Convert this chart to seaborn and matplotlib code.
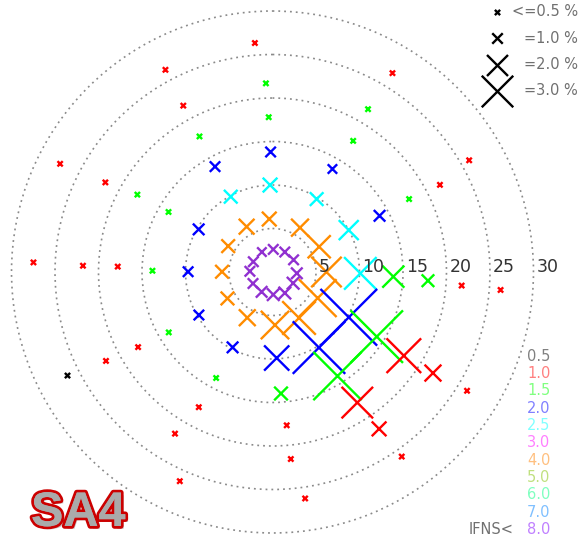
import numpy as np
import pandas as pd
import matplotlib
matplotlib.use("Agg")
import matplotlib.pyplot as plt
import matplotlib.patheffects as pe
from matplotlib.transforms import offset_copy
import seaborn as sns

# 12 directions x 7 speed bins
direction_deg = [
    2.0, 356.5, 358.4, 359.1, 358.6, 358.0, 355.6,
    31.6, 31.8, 31.2, 30.2, 31.6, 30.4, 31.1,
    60.0, 61.6, 61.2, 62.3, 61.9, 62.5, 60.4,
    93.0, 90.0, 90.9, 92.2, 93.2, 94.1, 94.5,
    118.5, 120.0, 120.7, 121.8, 122.5, 122.2, 121.4,
    149.6, 150.0, 148.4, 148.0, 147.0, 145.8, 145.0,
    178.0, 177.3, 177.2, 176.0, 174.7, 174.4, 171.8,
    208.7, 208.9, 207.9, 208.0, 208.6, 211.1, 203.9,
    239.5, 239.6, 239.7, 239.8, 240.8, 241.9, 243.2,
    271.8, 270.3, 270.2, 270.6, 272.0, 271.9, 272.3,
    298.2, 300.3, 300.0, 300.0, 299.8, 298.2, 297.0,
    332.0, 330.3, 331.0, 331.4, 331.7, 331.8, 332.1,
]
speed = [
    2.6, 6.1, 10.0, 13.8, 17.8, 21.7, 26.4,
    2.7, 6.0, 9.8, 13.7, 17.7, 21.7, 26.7,
    2.8, 6.1, 10.0, 13.9, 17.8, 21.7, 26.0,
    2.8, 6.2, 10.1, 13.9, 17.9, 21.8, 26.3,
    2.7, 6.0, 10.2, 14.1, 17.9, 21.8, 26.2,
    2.8, 6.1, 10.2, 14.1, 17.9, 21.8, 25.9,
    2.6, 6.1, 9.9, 14.0, 17.7, 21.6, 26.3,
    2.6, 6.0, 9.8, 13.8, 17.7, 21.7, 26.3,
    2.6, 6.0, 9.8, 13.8, 17.7, 21.7, 26.4,
    2.6, 5.8, 9.7, 13.8, 17.8, 21.8, 27.5,
    2.5, 5.9, 9.8, 13.8, 17.9, 21.8, 27.4,
    2.6, 6.0, 9.9, 13.8, 17.7, 21.7, 26.3,
]
freq_pct = [
    1.0, 1.4, 1.4, 1.0, 0.5, 0.5, 0.5,
    1.0, 1.7, 1.3, 0.9, 0.5, 0.5, 0.5,
    1.0, 2.2, 1.9, 1.1, 0.5, 0.5, 0.5,
    1.1, 2.9, 3.1, 2.1, 1.2, 0.5, 0.5,
    1.2, 3.6, 5.4, 5.0, 3.3, 1.6, 0.5,
    1.2, 3.2, 5.0, 4.6, 3.0, 1.4, 0.5,
    1.2, 2.7, 2.4, 1.3, 0.5, 0.5, 0.5,
    1.1, 1.6, 1.1, 0.5, 0.5, 0.5, 0.5,
    1.0, 1.3, 1.0, 0.5, 0.5, 0.5, 0.5,
    1.0, 1.3, 1.0, 0.5, 0.5, 0.5, 0.5,
    1.0, 1.3, 1.1, 0.5, 0.5, 0.5, 0.5,
    0.9, 1.5, 1.3, 1.0, 0.5, 0.5, 0.5,
]
ifns_class = [
    "8.0", "4.0", "2.5", "2.0", "1.5", "1.5", "1.0",
    "8.0", "4.0", "2.5", "2.0", "1.5", "1.5", "1.0",
    "8.0", "4.0", "2.5", "2.0", "1.5", "1.0", "1.0",
    "8.0", "4.0", "2.5", "1.5", "1.5", "1.0", "1.0",
    "8.0", "4.0", "2.0", "1.5", "1.0", "1.0", "1.0",
    "8.0", "4.0", "2.0", "1.5", "1.0", "1.0", "1.0",
    "8.0", "4.0", "2.0", "1.5", "1.0", "1.0", "1.0",
    "8.0", "4.0", "2.0", "1.5", "1.0", "1.0", "1.0",
    "8.0", "4.0", "2.0", "1.5", "1.0", "1.0", "0.5",
    "8.0", "4.0", "2.0", "1.5", "1.0", "1.0", "1.0",
    "8.0", "4.0", "2.0", "1.5", "1.5", "1.0", "1.0",
    "8.0", "4.0", "2.5", "2.0", "1.5", "1.0", "1.0",
]

class_labels = ["0.5", "1.0", "1.5", "2.0", "2.5", "3.0", "4.0", "5.0", "6.0", "7.0", "8.0"]
class_colors = ["#000000", "#FF0000", "#00FF00", "#0000FF", "#00FFFF", "#FF00FF",
                "#FF8C00", "#80C000", "#00FF80", "#0080FF", "#9030D0"]
label_colors = ["#808080", "#FF8080", "#80FF80", "#8080FF", "#80FFFF", "#FF80FF",
                "#FFC080", "#C0E080", "#80FFC0", "#80C0FF", "#C080FF"]
size_keys = ["<=0.5 %", "=1.0 %", "=2.0 %", "=3.0 %"]
size_vals = [0.5, 1.0, 2.0, 3.0]
rings = [5, 10, 15, 20, 25, 30]

MS_PER_PCT = 7.56  # marker width in points per percent

df = pd.DataFrame({"dir": direction_deg, "speed": speed, "pct": freq_pct, "ifns": ifns_class})
df["theta"] = np.deg2rad(df["dir"])
df["area"] = (MS_PER_PCT * df["pct"]) ** 2

sns.set_style("white")
plt.rcParams["font.family"] = ["DejaVu Sans"]

fig = plt.figure(figsize=(5.82, 5.39), dpi=100)
# r-limit a bit past 30 so the outer dotted ring is not clipped
ax = fig.add_axes([0.0153, 0.0063, 0.9058, 0.9781], projection="polar")
ax.set_theta_zero_location("N")
ax.set_theta_direction(-1)

amin, amax = df["area"].min(), df["area"].max()
sns.scatterplot(data=df, x="theta", y="speed", hue="ifns",
                palette=dict(zip(class_labels, class_colors)),
                size="area", sizes=(amin, amax), size_norm=(amin, amax),
                marker="x", linewidth=1.7, legend=False, ax=ax, clip_on=False)

ax.set_ylim(0, 30.3)
ax.set_yticks(rings)
ax.set_yticklabels([])
ax.set_xticks([])
ax.set_xlabel("")
ax.set_ylabel("")
ax.spines["polar"].set_visible(False)
ax.grid(True, color="#8a8a8a", linestyle=(0, (1.1, 2.4)), linewidth=1.2)
ax.patch.set_alpha(0)

lab_tr = offset_copy(ax.transData, fig=fig, x=3, y=0, units="dots")
for v in rings:
    ax.text(np.pi / 2, v, str(v), transform=lab_tr, ha="left", va="baseline",
            fontsize=12.5, color="#333333")

# overlay in pixel coords for the keys and the badge
ov = fig.add_axes([0, 0, 1, 1])
ov.set_xlim(0, 582)
ov.set_ylim(539, 0)
ov.axis("off")

for i, (k, p) in enumerate(zip(size_keys, size_vals)):
    y = 12 + 26.3 * i
    ov.scatter([496.7], [y], s=(MS_PER_PCT * p) ** 2, marker="x", color="black", linewidths=1.7)
    ov.text(578, y, k, ha="right", va="center", fontsize=10.5, color="#707070")

for i, (lab, c) in enumerate(zip(class_labels, label_colors)):
    ov.text(527, 360.7 + 17.33 * i, lab, ha="left", va="baseline", fontsize=10.5, color=c)
ov.text(514, 534, "IFNS<", ha="right", va="baseline", fontsize=10.5, color="#707070")

ov.text(31, 526, "SA4", ha="left", va="baseline", fontsize=35, fontweight="bold",
        family=["Liberation Sans"], color="#AAAAAA",
        path_effects=[pe.SimplePatchShadow(offset=(2, -2), shadow_rgbFace="#888888", alpha=0.5),
                      pe.withStroke(linewidth=4, foreground="#CC0000"), pe.Normal()])

fig.savefig("out.png", dpi=100)
